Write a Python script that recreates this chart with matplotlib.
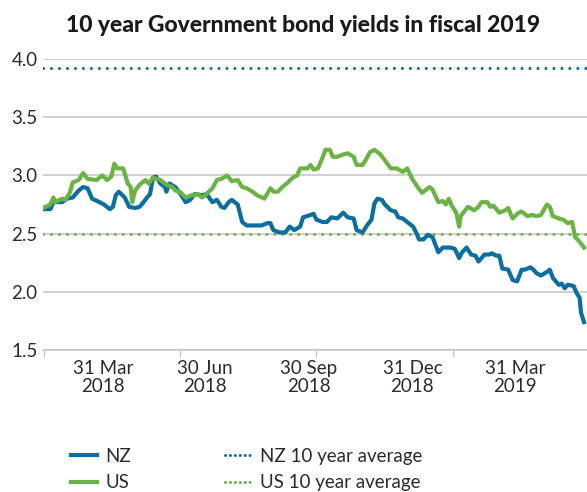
import matplotlib
matplotlib.use("Agg")
import matplotlib.pyplot as plt
from matplotlib.lines import Line2D
import pandas as pd

plt.rcParams["font.family"] = ["Lato", "DejaVu Sans"]

NZ_BLUE = "#0A6EA0"
US_GREEN = "#6AB344"
GRID = "#C4C4C4"
TEXT = "#2B2B2B"

# 10 year yields (%), read roughly every few trading days
nz_dates = [
    "2018-03-30", "2018-04-04", "2018-04-06", "2018-04-12", "2018-04-15", "2018-04-19",
    "2018-04-23", "2018-04-26", "2018-04-29", "2018-05-02", "2018-05-07", "2018-05-10",
    "2018-05-14", "2018-05-16", "2018-05-18", "2018-05-20", "2018-05-24", "2018-05-27",
    "2018-05-31", "2018-06-03", "2018-06-05", "2018-06-08", "2018-06-10", "2018-06-12",
    "2018-06-14", "2018-06-17", "2018-06-20", "2018-06-21", "2018-06-23", "2018-06-27",
    "2018-06-30", "2018-07-04", "2018-07-07", "2018-07-10", "2018-07-15", "2018-07-18",
    "2018-07-22", "2018-07-25", "2018-07-28", "2018-07-30", "2018-08-02", "2018-08-04",
    "2018-08-08", "2018-08-11", "2018-08-14", "2018-08-21", "2018-08-24", "2018-08-28",
    "2018-08-30", "2018-09-01", "2018-09-05", "2018-09-09", "2018-09-12", "2018-09-15",
    "2018-09-19", "2018-09-21", "2018-09-26", "2018-09-28", "2018-09-30", "2018-10-04",
    "2018-10-07", "2018-10-10", "2018-10-14", "2018-10-18", "2018-10-21", "2018-10-25",
    "2018-10-27", "2018-10-31", "2018-11-03", "2018-11-06", "2018-11-08", "2018-11-10",
    "2018-11-13", "2018-11-15", "2018-11-19", "2018-11-22", "2018-11-24", "2018-11-27",
    "2018-12-01", "2018-12-04", "2018-12-06", "2018-12-08", "2018-12-11", "2018-12-14",
    "2018-12-17", "2018-12-21", "2018-12-24", "2018-12-29", "2019-01-01", "2019-01-04",
    "2019-01-06", "2019-01-09", "2019-01-12", "2019-01-15", "2019-01-17", "2019-01-21",
    "2019-01-24", "2019-01-26", "2019-01-29", "2019-01-31", "2019-02-02", "2019-02-06",
    "2019-02-09", "2019-02-12", "2019-02-15", "2019-02-17", "2019-02-21", "2019-02-23",
    "2019-02-25", "2019-02-28", "2019-03-04", "2019-03-06", "2019-03-08", "2019-03-12",
    "2019-03-14", "2019-03-16", "2019-03-18", "2019-03-22", "2019-03-24", "2019-03-26",
    "2019-03-27", "2019-03-29",
]
nz_yield = [
    2.71, 2.71, 2.77, 2.77, 2.80, 2.81,
    2.87, 2.90, 2.89, 2.80, 2.77, 2.75,
    2.71, 2.73, 2.83, 2.86, 2.81, 2.73,
    2.72, 2.73, 2.76, 2.81, 2.84, 2.98,
    2.99, 2.93, 2.90, 2.86, 2.93, 2.90,
    2.85, 2.77, 2.79, 2.84, 2.83, 2.84,
    2.77, 2.79, 2.73, 2.72, 2.77, 2.79,
    2.75, 2.60, 2.57, 2.57, 2.57, 2.59,
    2.59, 2.53, 2.51, 2.51, 2.56, 2.53,
    2.56, 2.64, 2.66, 2.67, 2.62, 2.60,
    2.60, 2.64, 2.63, 2.68, 2.64, 2.63,
    2.53, 2.51, 2.57, 2.62, 2.76, 2.80,
    2.79, 2.75, 2.70, 2.69, 2.64, 2.63,
    2.59, 2.56, 2.51, 2.45, 2.45, 2.49,
    2.47, 2.34, 2.38, 2.38, 2.37, 2.29,
    2.34, 2.38, 2.32, 2.31, 2.26, 2.32,
    2.32, 2.33, 2.31, 2.31, 2.20, 2.19,
    2.10, 2.09, 2.19, 2.19, 2.21, 2.19,
    2.16, 2.14, 2.17, 2.19, 2.12, 2.06,
    2.07, 2.03, 2.06, 2.05, 1.99, 1.95,
    1.82, 1.74,
]

us_dates = [
    "2018-03-30", "2018-04-04", "2018-04-06", "2018-04-07", "2018-04-12", "2018-04-14",
    "2018-04-17", "2018-04-19", "2018-04-23", "2018-04-26", "2018-04-29", "2018-05-05",
    "2018-05-09", "2018-05-12", "2018-05-15", "2018-05-17", "2018-05-19", "2018-05-23",
    "2018-05-26", "2018-05-28", "2018-05-29", "2018-05-31", "2018-06-03", "2018-06-07",
    "2018-06-09", "2018-06-12", "2018-06-17", "2018-06-21", "2018-06-25", "2018-06-27",
    "2018-06-30", "2018-07-04", "2018-07-08", "2018-07-12", "2018-07-15", "2018-07-18",
    "2018-07-22", "2018-07-25", "2018-07-28", "2018-08-01", "2018-08-04", "2018-08-08",
    "2018-08-11", "2018-08-14", "2018-08-18", "2018-08-21", "2018-08-26", "2018-08-30",
    "2018-09-01", "2018-09-04", "2018-09-07", "2018-09-10", "2018-09-14", "2018-09-17",
    "2018-09-19", "2018-09-24", "2018-09-26", "2018-09-28", "2018-10-01", "2018-10-04",
    "2018-10-06", "2018-10-09", "2018-10-11", "2018-10-14", "2018-10-18", "2018-10-21",
    "2018-10-25", "2018-10-27", "2018-10-31", "2018-11-02", "2018-11-05", "2018-11-08",
    "2018-11-12", "2018-11-15", "2018-11-19", "2018-11-23", "2018-11-27", "2018-11-30",
    "2018-12-03", "2018-12-07", "2018-12-10", "2018-12-12", "2018-12-15", "2018-12-17",
    "2018-12-21", "2018-12-24", "2018-12-26", "2018-12-28", "2018-12-30", "2019-01-02",
    "2019-01-04", "2019-01-05", "2019-01-08", "2019-01-10", "2019-01-14", "2019-01-17",
    "2019-01-19", "2019-01-23", "2019-01-25", "2019-01-27", "2019-01-31", "2019-02-04",
    "2019-02-06", "2019-02-09", "2019-02-13", "2019-02-15", "2019-02-19", "2019-02-22",
    "2019-02-25", "2019-02-28", "2019-03-04", "2019-03-06", "2019-03-08", "2019-03-12",
    "2019-03-15", "2019-03-18", "2019-03-21", "2019-03-23", "2019-03-26", "2019-03-29",
]
us_yield = [
    2.72, 2.75, 2.81, 2.77, 2.80, 2.79,
    2.85, 2.94, 2.96, 3.02, 2.97, 2.96,
    3.00, 2.96, 2.99, 3.10, 3.06, 3.06,
    2.93, 2.90, 2.77, 2.87, 2.92, 2.96,
    2.93, 2.98, 2.96, 2.92, 2.90, 2.87,
    2.86, 2.81, 2.83, 2.84, 2.81, 2.84,
    2.89, 2.96, 2.97, 3.00, 2.95, 2.96,
    2.90, 2.89, 2.86, 2.83, 2.80, 2.89,
    2.86, 2.86, 2.90, 2.93, 2.98, 3.00,
    3.06, 3.06, 3.09, 3.05, 3.06, 3.15,
    3.22, 3.22, 3.16, 3.16, 3.18, 3.19,
    3.16, 3.09, 3.09, 3.13, 3.20, 3.22,
    3.18, 3.13, 3.06, 3.06, 3.03, 3.06,
    2.98, 2.90, 2.85, 2.87, 2.90, 2.88,
    2.77, 2.78, 2.75, 2.80, 2.74, 2.68,
    2.56, 2.65, 2.70, 2.73, 2.70, 2.73,
    2.77, 2.77, 2.73, 2.74, 2.68, 2.70,
    2.72, 2.63, 2.68, 2.69, 2.65, 2.66,
    2.65, 2.66, 2.75, 2.73, 2.65, 2.63,
    2.62, 2.59, 2.60, 2.47, 2.43, 2.38,
]

# 10 year averages
nz_avg = 3.92
us_avg = 2.50

quarter_ends = ["2018-03-31", "2018-06-30", "2018-09-30", "2018-12-31"]
date_labels = ["31 Mar\n2018", "30 Jun\n2018", "30 Sep\n2018", "31 Dec\n2018", "31 Mar\n2019"]
label_pos = [0.110, 0.298, 0.488, 0.679, 0.868]  # axes fraction

nz = pd.Series(nz_yield, index=pd.to_datetime(nz_dates))
us = pd.Series(us_yield, index=pd.to_datetime(us_dates))

fig = plt.figure(figsize=(5.87, 4.92), dpi=100)
ax = fig.add_axes([43 / 587, 1 - 350 / 492, 544 / 587, 291 / 492])

dot = (0, (0.01, 2.6))
ax.axhline(nz_avg, color=NZ_BLUE, lw=2.2, ls=dot, dash_capstyle="round", zorder=3)
ax.axhline(us_avg, color=US_GREEN, lw=2.2, ls=dot, dash_capstyle="round", zorder=3)
ax.plot(nz.index, nz.values, color=NZ_BLUE, lw=3.0, solid_joinstyle="round", zorder=4)
ax.plot(us.index, us.values, color=US_GREEN, lw=3.0, solid_joinstyle="round", zorder=5)

ax.set_ylim(1.5, 4.0)
ax.set_yticks([1.5, 2.0, 2.5, 3.0, 3.5, 4.0])
ax.set_yticklabels(["1.5", "2.0", "2.5", "3.0", "3.5", "4.0"])
ax.set_xlim(pd.Timestamp("2018-03-30"), pd.Timestamp("2019-03-31"))
ax.set_xticks(pd.to_datetime(quarter_ends))
ax.set_xticklabels([])
ax.grid(axis="y", color=GRID, lw=1.1)
ax.set_axisbelow(True)

for side in ["left", "right", "top"]:
    ax.spines[side].set_visible(False)
ax.spines["bottom"].set_color(GRID)
ax.spines["bottom"].set_linewidth(1.1)
ax.tick_params(axis="y", length=0, pad=4, labelsize=13.5, labelcolor=TEXT)
ax.tick_params(axis="x", length=5, width=1, color=GRID, direction="out")

for x, lab in zip(label_pos, date_labels):
    ax.text(x, -0.035, lab, transform=ax.transAxes, ha="center", va="top",
            fontsize=13.5, color=TEXT, linespacing=1.05)

fig.text(303 / 587, 1 - 25 / 492, "10 year Government bond yields in fiscal 2019",
         ha="center", va="center", fontsize=16.5, fontweight="black", color="#1A1A1A")

handles = [
    Line2D([], [], color=NZ_BLUE, lw=3.0),
    Line2D([], [], color=US_GREEN, lw=3.0),
    Line2D([], [], color=NZ_BLUE, lw=2.2, ls=(0, (0.01, 1.6)), dash_capstyle="round"),
    Line2D([], [], color=US_GREEN, lw=2.2, ls=(0, (0.01, 1.6)), dash_capstyle="round"),
]
labels = ["NZ", "US", "NZ 10 year average", "US 10 year average"]
fig.legend(handles, labels, loc="upper left", bbox_to_anchor=(54 / 587, 1 - 431 / 492),
           ncol=2, frameon=False, fontsize=13.5, handlelength=1.4, handletextpad=0.45,
           columnspacing=5.0, labelspacing=0.5, labelcolor=TEXT)

fig.savefig("out.png", dpi=100)
